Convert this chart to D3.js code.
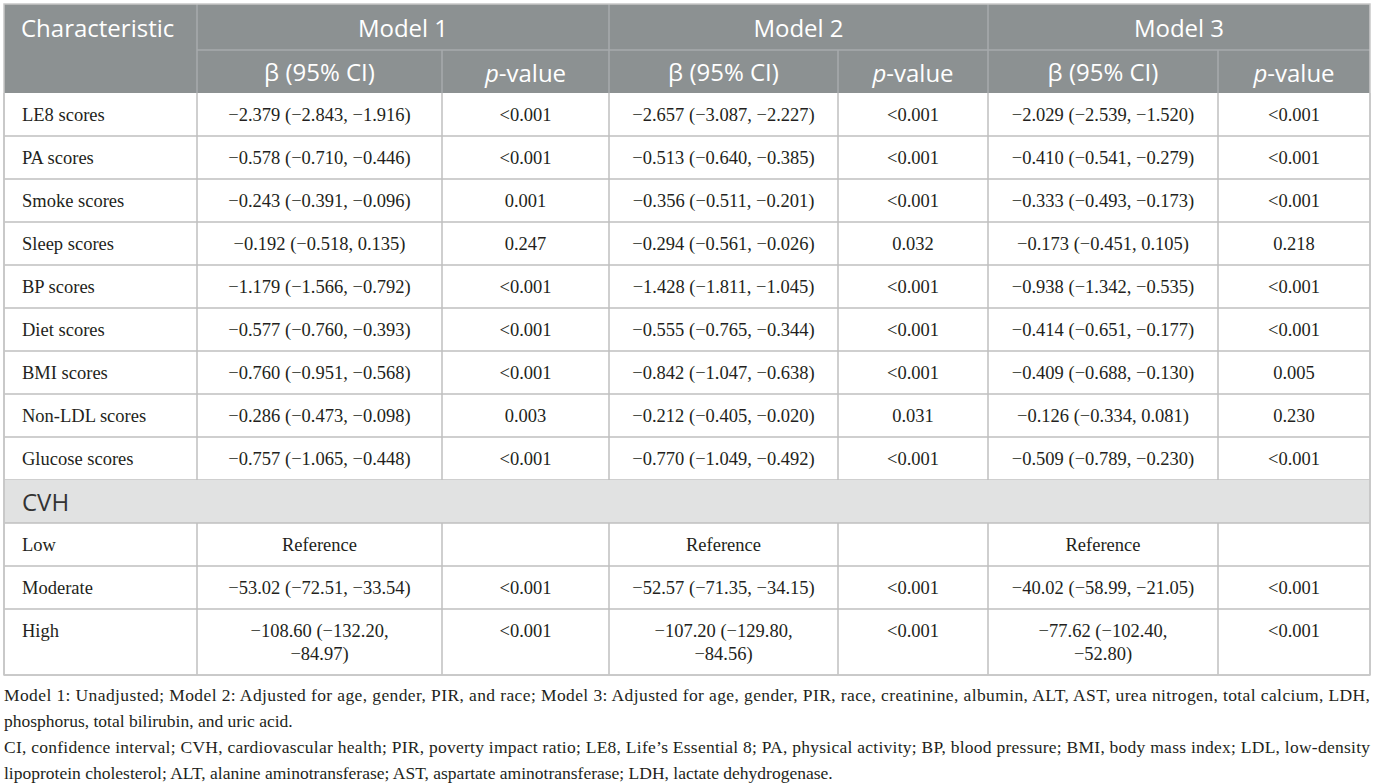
<!DOCTYPE html>
<html>
<head>
<meta charset="utf-8">
<script src="https://cdn.jsdelivr.net/npm/d3@7"></script>
<style>
  body { margin: 0; background: #fff; }
  svg { display: block; }
</style>
</head>
<body>
<script>
const width = 1375;
const height = 783;

// data
const modelNames = ["Model 1", "Model 2", "Model 3"];
const subHeaders = ["β (95% CI)", "p-value"];

const characteristics = ["LE8 scores", "PA scores", "Smoke scores", "Sleep scores", "BP scores",
    "Diet scores", "BMI scores", "Non-LDL scores", "Glucose scores"];

const model1Beta = ["−2.379 (−2.843, −1.916)", "−0.578 (−0.710, −0.446)", "−0.243 (−0.391, −0.096)",
    "−0.192 (−0.518, 0.135)", "−1.179 (−1.566, −0.792)", "−0.577 (−0.760, −0.393)",
    "−0.760 (−0.951, −0.568)", "−0.286 (−0.473, −0.098)", "−0.757 (−1.065, −0.448)"];
const model1P = ["<0.001", "<0.001", "0.001", "0.247", "<0.001", "<0.001", "<0.001", "0.003", "<0.001"];

const model2Beta = ["−2.657 (−3.087, −2.227)", "−0.513 (−0.640, −0.385)", "−0.356 (−0.511, −0.201)",
    "−0.294 (−0.561, −0.026)", "−1.428 (−1.811, −1.045)", "−0.555 (−0.765, −0.344)",
    "−0.842 (−1.047, −0.638)", "−0.212 (−0.405, −0.020)", "−0.770 (−1.049, −0.492)"];
const model2P = ["<0.001", "<0.001", "<0.001", "0.032", "<0.001", "<0.001", "<0.001", "0.031", "<0.001"];

const model3Beta = ["−2.029 (−2.539, −1.520)", "−0.410 (−0.541, −0.279)", "−0.333 (−0.493, −0.173)",
    "−0.173 (−0.451, 0.105)", "−0.938 (−1.342, −0.535)", "−0.414 (−0.651, −0.177)",
    "−0.409 (−0.688, −0.130)", "−0.126 (−0.334, 0.081)", "−0.509 (−0.789, −0.230)"];
const model3P = ["<0.001", "<0.001", "<0.001", "0.218", "<0.001", "<0.001", "0.005", "0.230", "<0.001"];

const sectionLabel = "CVH";
const cvhLevels = ["Low", "Moderate", "High"];
const cvhModel1Beta = ["Reference", "−53.02 (−72.51, −33.54)", "−108.60 (−132.20, −84.97)"];
const cvhModel1P = ["", "<0.001", "<0.001"];
const cvhModel2Beta = ["Reference", "−52.57 (−71.35, −34.15)", "−107.20 (−129.80, −84.56)"];
const cvhModel2P = ["", "<0.001", "<0.001"];
const cvhModel3Beta = ["Reference", "−40.02 (−58.99, −21.05)", "−77.62 (−102.40, −52.80)"];
const cvhModel3P = ["", "<0.001", "<0.001"];

const footnotes = [
    "Model 1: Unadjusted; Model 2: Adjusted for age, gender, PIR, and race; Model 3: Adjusted for age, gender, PIR, race, creatinine, albumin, ALT, AST, urea nitrogen, total calcium, LDH,",
    "phosphorus, total bilirubin, and uric acid.",
    "CI, confidence interval; CVH, cardiovascular health; PIR, poverty impact ratio; LE8, Life’s Essential 8; PA, physical activity; BP, blood pressure; BMI, body mass index; LDL, low-density",
    "lipoprotein cholesterol; ALT, alanine aminotransferase; AST, aspartate aminotransferase; LDH, lactate dehydrogenase."
];
const footnoteJustified = [true, false, true, false];

// layout
const colEdges = [4, 197, 442, 609, 838, 988, 1218, 1370];
const tableTop = 4, headerMid = 50, headerBottom = 93;
const rowH = 43, lineH = 23;
const wrapWidth = 187;
const headFill = "#8c9192", sectionFill = "#e1e2e2";
const gridColor = "#bfbfbf", headLine = "#a7abac";
const serif = "'Liberation Serif', 'Times New Roman', serif";
const sans = "'Open Sans', 'Noto Sans', sans-serif";

// build rows
let rows = characteristics.map((c, i) => ({
    type: "data",
    cells: [c, model1Beta[i], model1P[i], model2Beta[i], model2P[i], model3Beta[i], model3P[i]]
}));
rows.push({ type: "section", cells: [sectionLabel] });
cvhLevels.forEach((c, i) => rows.push({
    type: "data",
    cells: [c, cvhModel1Beta[i], cvhModel1P[i], cvhModel2Beta[i], cvhModel2P[i], cvhModel3Beta[i], cvhModel3P[i]]
}));

let svg = d3.select("body").append("svg")
    .attr("width", width)
    .attr("height", height);

// measure text for wrapping
let measure = svg.append("text").attr("font-family", serif).attr("font-size", 18.5).attr("opacity", 0);
function wrap(str) {
    measure.text(str);
    if (measure.node().getComputedTextLength() <= wrapWidth) return [str];
    let words = str.split(" ");
    let lines = [], cur = "";
    words.forEach(w => {
        let t = cur ? cur + " " + w : w;
        measure.text(t);
        if (measure.node().getComputedTextLength() > wrapWidth && cur) {
            lines.push(cur);
            cur = w;
        } else cur = t;
    });
    lines.push(cur);
    return lines;
}
rows.forEach(r => {
    r.lines = r.cells.map(c => wrap(c));
    let n = d3.max(r.lines, l => l.length);
    r.h = rowH + (n - 1) * lineH;
});
measure.remove();

let ys = d3.cumsum(rows, r => r.h);
rows.forEach((r, i) => { r.y0 = headerBottom + (i ? ys[i - 1] : 0); r.y1 = headerBottom + ys[i]; });
const tableBottom = rows[rows.length - 1].y1;

let x = d3.scaleOrdinal().domain(d3.range(8)).range(colEdges);
const left = x(0), right = x(7);

// header
let head = svg.append("g");
head.append("rect")
    .attr("x", left).attr("y", tableTop)
    .attr("width", right - left).attr("height", headerBottom - tableTop)
    .attr("fill", headFill);

head.append("line")
    .attr("x1", x(1)).attr("x2", right).attr("y1", headerMid).attr("y2", headerMid)
    .attr("stroke", headLine).attr("stroke-width", 1.5);

[1, 3, 5].forEach(i => head.append("line")
    .attr("x1", x(i)).attr("x2", x(i)).attr("y1", tableTop).attr("y2", headerBottom)
    .attr("stroke", headLine).attr("stroke-width", 1.5));
[2, 4, 6].forEach(i => head.append("line")
    .attr("x1", x(i)).attr("x2", x(i)).attr("y1", headerMid).attr("y2", headerBottom)
    .attr("stroke", headLine).attr("stroke-width", 1.5));

head.append("text")
    .attr("x", left + 17).attr("y", (tableTop + headerMid) / 2)
    .attr("dominant-baseline", "central")
    .attr("font-family", sans).attr("font-size", 24).attr("fill", "#fff")
    .text("Characteristic");

head.selectAll("text.model")
    .data(modelNames)
    .enter()
    .append("text")
    .attr("class", "model")
    .attr("x", (d, i) => (x(1 + i * 2) + x(3 + i * 2)) / 2)
    .attr("y", (tableTop + headerMid) / 2)
    .attr("text-anchor", "middle")
    .attr("dominant-baseline", "central")
    .attr("font-family", sans).attr("font-size", 24).attr("fill", "#fff")
    .text(d => d);

let subs = head.selectAll("text.sub")
    .data(d3.range(6))
    .enter()
    .append("text")
    .attr("class", "sub")
    .attr("x", i => (x(1 + i) + x(2 + i)) / 2)
    .attr("y", (headerMid + headerBottom) / 2)
    .attr("text-anchor", "middle")
    .attr("dominant-baseline", "central")
    .attr("font-family", sans).attr("font-size", 24).attr("fill", "#fff");
subs.each(function (i) {
    let t = d3.select(this);
    if (i % 2 === 0) t.text(subHeaders[0]);
    else {
        t.append("tspan").attr("font-style", "italic").text("p");
        t.append("tspan").text(subHeaders[1].slice(1));
    }
});

// body
let body = svg.append("g");
let rowG = body.selectAll("g.row")
    .data(rows)
    .enter()
    .append("g")
    .attr("class", "row");

rowG.filter(r => r.type === "section")
    .append("rect")
    .attr("x", left).attr("y", r => r.y0)
    .attr("width", right - left).attr("height", r => r.h)
    .attr("fill", sectionFill);

rowG.append("line")
    .attr("x1", left).attr("x2", right)
    .attr("y1", r => r.y1).attr("y2", r => r.y1)
    .attr("stroke", gridColor).attr("stroke-width", 1.5);

rowG.each(function (r) {
    let g = d3.select(this);
    let edges = r.type === "section" ? [0, 7] : d3.range(8);
    edges.forEach(e => g.append("line")
        .attr("x1", x(e)).attr("x2", x(e)).attr("y1", r.y0).attr("y2", r.y1)
        .attr("stroke", gridColor).attr("stroke-width", 1.5));

    if (r.type === "section") {
        g.append("text")
            .attr("x", left + 18).attr("y", (r.y0 + r.y1) / 2)
            .attr("dominant-baseline", "central")
            .attr("font-family", sans).attr("font-size", 24).attr("fill", "#333")
            .text(r.cells[0]);
        return;
    }
    r.lines.forEach((lines, c) => {
        let first = r.y0 + rowH / 2;
        lines.forEach((ln, k) => g.append("text")
            .attr("x", c === 0 ? left + 18 : (x(c) + x(c + 1)) / 2)
            .attr("y", first + k * lineH)
            .attr("text-anchor", c === 0 ? "start" : "middle")
            .attr("dominant-baseline", "central")
            .attr("font-family", serif).attr("font-size", 18.5).attr("fill", "#231f20")
            .text(ln));
    });
});

// outer border
svg.append("rect")
    .attr("x", left).attr("y", tableTop)
    .attr("width", right - left).attr("height", tableBottom - tableTop)
    .attr("fill", "none").attr("stroke", "#c8c8c8").attr("stroke-width", 1.5);

// footnotes
let notes = svg.append("g");
notes.selectAll("text")
    .data(footnotes)
    .enter()
    .append("text")
    .attr("x", left)
    .attr("y", (d, i) => tableBottom + 20 + i * 26)
    .attr("dominant-baseline", "central")
    .attr("font-family", serif).attr("font-size", 17.5).attr("fill", "#231f20")
    .attr("textLength", (d, i) => footnoteJustified[i] ? right - left : null)
    .attr("lengthAdjust", "spacing")
    .text(d => d);
</script>
</body>
</html>
